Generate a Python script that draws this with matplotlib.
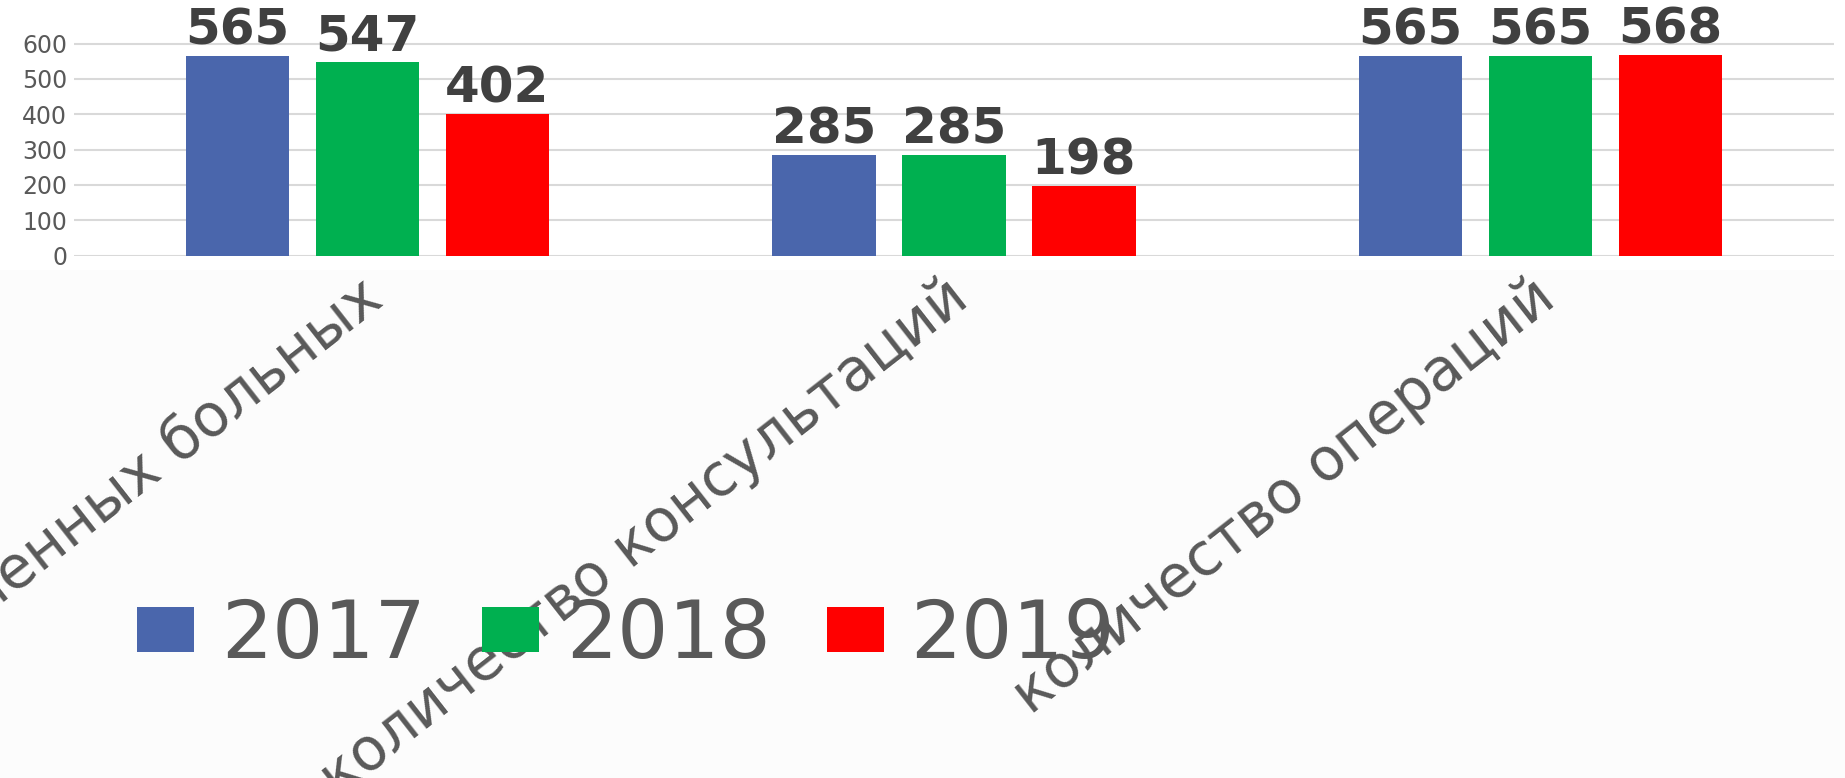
import matplotlib.pyplot as plt
import matplotlib.transforms as mtransforms
import numpy as np

categories = ['количество пролеченных больных', 'количество консультаций', 'количество операций']
years = ['2017', '2018', '2019']
v2017 = [565, 285, 565]
v2018 = [547, 285, 565]
v2019 = [402, 198, 568]
colors = ['#4a66ac', '#00b050', '#ff0000']

TEXT = '#595959'
W, H = 1845, 778

fig = plt.figure(figsize=(W / 100, H / 100), dpi=100, facecolor='#fcfcfc')
# white chart area band behind the axes
fig.patches.append(plt.Rectangle((0, 1 - 270 / H), 1, 270 / H, transform=fig.transFigure,
                                 facecolor='white', edgecolor='none', zorder=-5))

ax = fig.add_axes([74 / W, 1 - 255.7 / H, (1834 - 74) / W, 255.7 / H])
ax.set_facecolor('white')

x = np.arange(len(categories))
width = 0.1756
step = 0.2216
for i, (vals, lab, col) in enumerate(zip([v2017, v2018, v2019], years, colors)):
    bars = ax.bar(x + (i - 1) * step, vals, width, color=col, label=lab, zorder=3)
    ax.bar_label(bars, padding=1, fontsize=36, fontweight='bold', color='#404040')

ax.set_xlim(-0.5, 2.5)
ax.set_ylim(0, 723)
ax.set_yticks(range(0, 700, 100))
ax.yaxis.grid(True, color='#d9d9d9', linewidth=1.5, zorder=0)
ax.tick_params(axis='y', length=0, labelsize=17, labelcolor=TEXT, pad=5)
ax.tick_params(axis='x', length=0, pad=9)
for s in ax.spines.values():
    s.set_visible(False)

ax.set_xticks(x)
ax.set_xticklabels(categories, rotation=38, ha='right', va='top',
                   rotation_mode='anchor', fontsize=42, color=TEXT)
shift = mtransforms.ScaledTranslation(-10 / 100, 0, fig.dpi_scale_trans)
for t in ax.get_xticklabels():
    t.set_transform(t.get_transform() + shift)

fig.legend(loc='center left', bbox_to_anchor=(137 / W, 1 - 636 / H), ncol=3,
           frameon=False, fontsize=58, labelcolor=TEXT, handlelength=0.71,
           handleheight=0.49, handletextpad=0.33, columnspacing=0.7,
           borderpad=0, borderaxespad=0)

fig.savefig('out.png', dpi=100, facecolor=fig.get_facecolor())
